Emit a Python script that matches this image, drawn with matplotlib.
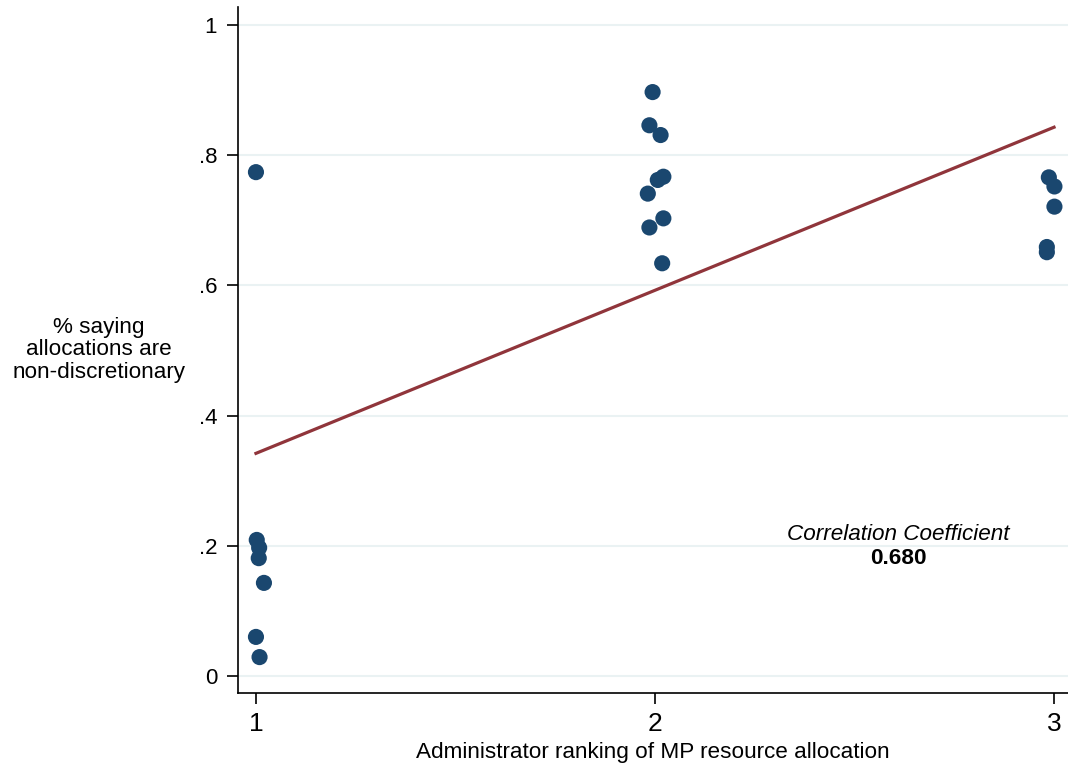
import matplotlib
matplotlib.use("Agg")
import matplotlib.pyplot as plt

plt.rcParams['font.family'] = ['Liberation Sans', 'DejaVu Sans']

# Data (x includes the small horizontal jitter seen in the picture)
rank_x = [1.000, 1.002, 1.008, 1.007, 1.020, 1.000, 1.009,
          1.994, 1.986, 2.014, 2.021, 2.007, 1.982, 2.021, 1.986, 2.018,
          2.987, 3.001, 3.001, 2.982, 2.982]
pct_y = [0.774, 0.209, 0.197, 0.181, 0.143, 0.060, 0.029,
         0.897, 0.846, 0.831, 0.767, 0.762, 0.741, 0.703, 0.689, 0.634,
         0.766, 0.752, 0.721, 0.659, 0.651]
fit_x = [1, 3]
fit_y = [0.342, 0.843]
yticks = [0, 0.2, 0.4, 0.6, 0.8, 1.0]
yticklabels = ['0', '.2', '.4', '.6', '.8', '1']
xticks = [1, 2, 3]
xticklabels = ['1', '2', '3']
corr_text = "0.680"

W, H = 1068, 765
fig = plt.figure(figsize=(W / 100, H / 100), dpi=100)
ax = fig.add_axes([238 / W, 1 - 692.7 / H, (W - 238) / W, (692.7 - 7) / H])

ax.set_xlim(0.955, 3.035)
ax.set_ylim(-0.0257, 1.0277)

for yv in yticks:
    ax.axhline(yv, color='#eaf2f3', lw=1.5, zorder=0)

ax.scatter(rank_x, pct_y, s=135, color='#1a476f', zorder=3, edgecolors='none')
ax.plot(fit_x, fit_y, color='#90353b', lw=2.3, zorder=2)

ax.spines['top'].set_visible(False)
ax.spines['right'].set_visible(False)
ax.spines['left'].set_linewidth(1.2)
ax.spines['bottom'].set_linewidth(1.2)

ax.set_yticks(yticks)
ax.set_yticklabels(yticklabels, fontsize=16)
ax.set_xticks(xticks)
ax.set_xticklabels(xticklabels, fontsize=19)
ax.tick_params(axis='both', length=8, width=1.2, direction='out')
ax.tick_params(axis='y', pad=7)
ax.tick_params(axis='x', pad=6)

ax.set_xlabel('Administrator ranking of MP resource allocation', fontsize=16.2, labelpad=4)

fig.text(99 / W, 1 - 350 / H, '% saying\nallocations are\nnon-discretionary',
         ha='center', va='center', fontsize=16.2, linespacing=1.1)

fig.text(898 / W, 1 - 534 / H, 'Correlation Coefficient', ha='center', va='center',
         fontsize=16.2, style='italic')
fig.text(898 / W, 1 - 558 / H, corr_text, ha='center', va='center',
         fontsize=16.2, weight='bold')

fig.savefig('out.png', dpi=100)
